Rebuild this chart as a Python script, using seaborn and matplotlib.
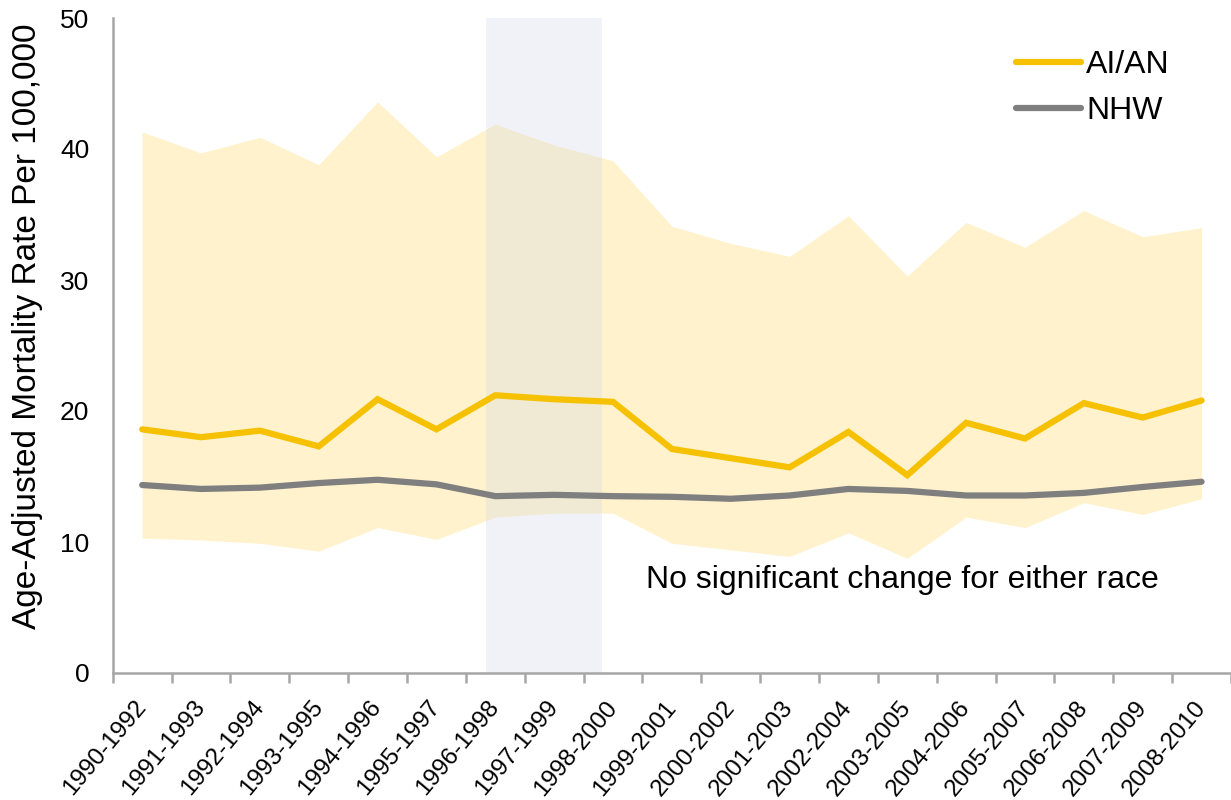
import numpy as np
import pandas as pd
import matplotlib.pyplot as plt
import matplotlib.transforms as mtransforms
import seaborn as sns

# Periodos (promedios de 3 años)
periods = ["1990-1992", "1991-1993", "1992-1994", "1993-1995", "1994-1996",
           "1995-1997", "1996-1998", "1997-1999", "1998-2000", "1999-2001",
           "2000-2002", "2001-2003", "2002-2004", "2003-2005", "2004-2006",
           "2005-2007", "2006-2008", "2007-2009", "2008-2010"]

# Tasas ajustadas por edad (por 100,000)
aian = [18.6, 18.0, 18.5, 17.3, 20.9, 18.6, 21.2, 20.9, 20.7, 17.1,
        16.4, 15.7, 18.4, 15.1, 19.1, 17.9, 20.6, 19.5, 20.8]
aian_upper = [41.3, 39.7, 40.9, 38.8, 43.6, 39.4, 41.9, 40.3, 39.1, 34.1,
              32.8, 31.8, 34.9, 30.3, 34.4, 32.5, 35.3, 33.3, 34.0]
aian_lower = [10.3, 10.15, 9.9, 9.3, 11.1, 10.2, 11.9, 12.2, 12.2, 9.9,
              9.4, 8.9, 10.7, 8.75, 11.9, 11.1, 13.0, 12.1, 13.3]
nhw = [14.35, 14.05, 14.15, 14.5, 14.75, 14.4, 13.5, 13.6, 13.5, 13.45,
       13.3, 13.55, 14.05, 13.9, 13.55, 13.55, 13.75, 14.2, 14.6]

# Periodo sombreado (1996-1998 a 1998-2000 aprox.)
shade_start, shade_end = 5.84, 7.82

x = np.arange(len(periods))

sns.set_style("white")
plt.rcParams["font.family"] = ["Liberation Sans", "DejaVu Sans"]
plt.rcParams["text.color"] = "black"
plt.rcParams["axes.labelcolor"] = "black"
plt.rcParams["xtick.color"] = "black"
plt.rcParams["ytick.color"] = "black"

fig = plt.figure(figsize=(12.31, 8), dpi=100)
ax = fig.add_axes([0.0916, 0.15875, 0.9084, 0.81875])

# Banda del intervalo de confianza AI/AN
ax.fill_between(x, aian_lower, aian_upper, color="#FFF2CC", lw=0, zorder=1)

# Periodo destacado
ax.axvspan(shade_start, shade_end, color="#C8D2E6", alpha=0.27, lw=0, zorder=2)

# Lineas
sns.lineplot(x=x, y=aian, color="#F5C100", lw=4.5, label="AI/AN", ax=ax, zorder=3,
             solid_capstyle="round", solid_joinstyle="miter")
sns.lineplot(x=x, y=nhw, color="#7F7F7F", lw=4.5, label="NHW", ax=ax, zorder=3,
             solid_capstyle="round", solid_joinstyle="miter")

ax.text(8.56, 7.1, "No significant change for either race", fontsize=23,
        ha="left", va="center", color="black", zorder=4)

# Ejes
ax.set_xlim(-0.5, -0.5 + (1231 - 112.7) / 59.3)
ax.set_ylim(0, 50)
ax.set_yticks(range(0, 51, 10))
ax.tick_params(axis="y", length=0, pad=17, labelsize=19, labelcolor="black")

ax.set_xticks(x)
ax.set_xticklabels(periods, rotation=50, ha="right", va="center",
                   rotation_mode="anchor", fontsize=17.5, color="black")
shift = mtransforms.ScaledTranslation(6 / 100, 0, fig.dpi_scale_trans)
for lbl in ax.get_xticklabels():
    lbl.set_transform(lbl.get_transform() + shift)
ax.set_xticks(np.arange(-0.5, len(periods), 1), minor=True)
ax.tick_params(axis="x", which="major", length=0, pad=22)
ax.tick_params(axis="x", which="minor", length=7, width=1.8, color="#A6A6A6",
               direction="out", bottom=True)

ax.set_ylabel("Age-Adjusted Mortality Rate Per 100,000", fontsize=24, color="black")
ax.yaxis.set_label_coords(-0.062, 0.53)
ax.set_xlabel("")

sns.despine(ax=ax)
for side in ["left", "bottom"]:
    ax.spines[side].set_color("#A6A6A6")
    ax.spines[side].set_linewidth(1.8)

leg = ax.legend(loc="upper left", bbox_to_anchor=(1016 / 1231, 1 - 50 / 800),
                bbox_transform=fig.transFigure, frameon=False, fontsize=23,
                handlelength=2.05, handletextpad=0.15, labelspacing=0.5,
                borderpad=0, borderaxespad=0)
for t in leg.get_texts():
    t.set_color("black")

fig.savefig("out.png", dpi=100)
